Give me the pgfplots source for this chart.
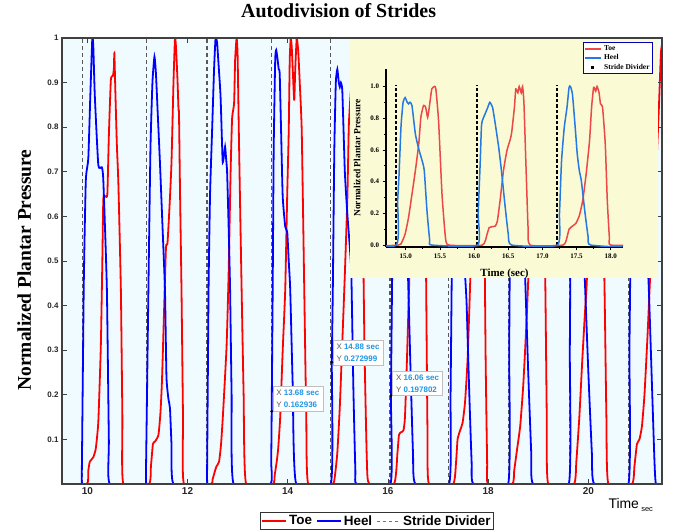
\documentclass[border=0pt]{standalone}
\usepackage{fontspec}
\setmainfont{Liberation Serif}
\newfontfamily\arial{Liberation Sans}
\usepackage{pgfplots}
\usepackage{pgfplotstable}
\pgfplotsset{compat=1.18}

\definecolor{mred}{RGB}{255,0,0}
\definecolor{mblue}{RGB}{0,0,255}
\definecolor{bgcyan}{RGB}{240,251,255}
\definecolor{inyel}{RGB}{250,250,212}
\definecolor{ored}{RGB}{236,72,72}
\definecolor{oblue}{RGB}{38,120,226}
\definecolor{tipblue}{RGB}{30,150,230}

% toe sensor, normalised
\pgfplotstableread{
x y
9.45 0
9.99 0
10.02 0.03
10.05 0.05
10.12 0.06
10.17 0.08
10.22 0.14
10.27 0.31
10.30 0.50
10.32 0.64
10.36 0.645
10.40 0.65
10.43 0.78
10.47 0.906
10.51 0.915
10.53 0.93
10.54 0.966
10.56 0.88
10.59 0.76
10.62 0.674
10.67 0.435
10.70 0.15
10.72 0
11.23 0
11.27 0.04
11.31 0.09
11.35 0.095
11.42 0.11
11.46 0.16
11.49 0.23
11.53 0.38
11.57 0.53
11.60 0.54
11.64 0.62
11.68 0.72
11.72 0.90
11.75 1.0
11.77 0.98
11.80 0.906
11.82 0.84
11.83 0.83
11.85 0.66
11.88 0.435
11.91 0.15
11.93 0
12.47 0
12.50 0.01
12.55 0.03
12.58 0.04
12.63 0.05
12.67 0.09
12.71 0.16
12.78 0.31
12.82 0.47
12.86 0.70
12.89 0.82
12.93 0.854
12.95 0.95
12.98 1.0
13.00 0.96
13.03 0.75
13.08 0.435
13.12 0.2
13.17 0
13.70 0
13.74 0.02
13.78 0.05
13.81 0.08
13.85 0.15
13.90 0.30
13.95 0.435
13.99 0.65
14.02 0.79
14.04 0.95
14.06 1.0
14.08 0.98
14.10 0.93
14.13 0.86
14.15 0.93
14.18 1.0
14.21 0.97
14.24 0.90
14.28 0.79
14.33 0.435
14.37 0.15
14.41 0
14.89 0
14.94 0.017
14.99 0.07
15.04 0.174
15.09 0.32
15.14 0.47
15.19 0.64
15.22 0.805
15.26 0.88
15.29 0.87
15.32 0.805
15.35 0.89
15.38 0.984
15.42 1.0
15.44 0.984
15.48 0.78
15.53 0.32
15.58 0.05
15.63 0
16.12 0
16.19 0.07
16.22 0.11
16.26 0.116
16.31 0.12
16.34 0.15
16.38 0.28
16.43 0.47
16.48 0.595
16.53 0.668
16.55 0.71
16.59 0.868
16.61 0.984
16.64 0.96
16.66 1.0
16.69 0.96
16.71 1.0
16.73 0.89
16.76 0.49
16.79 0.11
16.82 0
17.30 0
17.36 0.05
17.39 0.10
17.44 0.12
17.49 0.137
17.54 0.185
17.59 0.28
17.64 0.447
17.69 0.658
17.72 0.868
17.75 0.994
17.78 0.97
17.80 1.0
17.83 0.96
17.85 0.89
17.88 0.87
17.92 0.64
17.95 0.28
17.98 0.05
18.00 0
18.48 0
18.52 0.03
18.58 0.08
18.64 0.13
18.70 0.22
18.76 0.35
18.80 0.457
18.86 0.65
18.92 0.85
18.96 0.97
19.00 1.0
19.04 0.96
19.08 0.85
19.14 0.457
19.17 0.15
19.20 0
19.71 0
19.76 0.05
19.82 0.15
19.88 0.28
19.93 0.38
19.97 0.457
20.03 0.7
20.09 0.9
20.14 1.0
20.18 0.98
20.24 0.85
20.32 0.457
20.36 0.15
20.40 0
20.87 0
20.92 0.04
20.97 0.09
21.02 0.10
21.07 0.13
21.12 0.2
21.18 0.33
21.23 0.457
21.30 0.62
21.36 0.72
21.41 0.85
21.45 0.97
21.50 1.0
}\toe

% heel sensor, normalised
\pgfplotstableread{
x y
9.45 0
9.88 0
9.89 0.02
9.93 0.45
9.97 0.68
10.02 0.73
10.06 0.87
10.10 1.0
10.12 0.98
10.15 0.87
10.22 0.715
10.29 0.71
10.32 0.68
10.39 0.44
10.43 0.1
10.45 0
11.16 0
11.17 0.02
11.22 0.44
11.26 0.75
11.30 0.90
11.34 0.958
11.37 0.92
11.41 0.82
11.45 0.72
11.50 0.58
11.55 0.435
11.58 0.24
11.62 0.19
11.65 0.17
11.68 0.09
11.72 0
12.38 0
12.39 0.02
12.42 0.435
12.45 0.65
12.49 0.79
12.53 0.93
12.56 1.0
12.59 0.99
12.62 0.94
12.66 0.868
12.70 0.726
12.72 0.73
12.75 0.756
12.77 0.73
12.79 0.70
12.82 0.58
12.85 0.435
12.88 0.2
12.92 0
13.65 0
13.67 0.05
13.68 0.163
13.70 0.435
13.72 0.75
13.75 0.95
13.77 0.973
13.80 0.95
13.82 0.93
13.84 0.92
13.87 0.78
13.90 0.644
13.95 0.577
13.99 0.565
14.02 0.50
14.05 0.435
14.10 0.22
14.17 0
14.86 0
14.88 0.273
14.90 0.435
14.93 0.75
14.96 0.90
14.99 0.93
15.02 0.90
15.04 0.89
15.06 0.90
15.09 0.88
15.14 0.70
15.19 0.605
15.24 0.53
15.27 0.47
15.31 0.216
15.35 0.03
15.38 0
16.05 0
16.06 0.198
16.09 0.53
16.11 0.763
16.16 0.826
16.20 0.868
16.23 0.90
16.27 0.868
16.31 0.763
16.36 0.616
16.40 0.47
16.45 0.26
16.50 0.07
16.55 0
17.22 0
17.25 0.2
17.28 0.53
17.32 0.742
17.36 0.868
17.39 0.994
17.41 1.0
17.44 0.95
17.48 0.742
17.51 0.574
17.54 0.47
17.57 0.405
17.62 0.216
17.67 0.05
17.71 0
18.40 0
18.42 0.3
18.44 0.6
18.48 0.85
18.53 0.95
18.57 0.9
18.62 0.78
18.68 0.6
18.74 0.457
18.80 0.25
18.86 0.07
18.90 0
19.61 0
19.63 0.3
19.65 0.6
19.69 0.85
19.74 0.95
19.78 0.92
19.83 0.78
19.88 0.6
19.93 0.457
20.00 0.25
20.07 0.07
20.12 0
20.80 0
20.82 0.3
20.85 0.6
20.89 0.85
20.94 0.95
20.99 0.92
21.05 0.78
21.12 0.6
21.20 0.457
21.27 0.22
21.32 0.05
21.35 0
21.50 0
}\heel

\begin{document}
\begin{tikzpicture}
% ---- main figure ----
\begin{axis}[
    at={(0,0)}, anchor=south west,
    scale only axis, width=600bp, height=446bp,
    xmin=9.495, xmax=21.47, ymin=0, ymax=1,
    axis background/.style={fill=bgcyan},
    axis on top,
    axis line style={draw=black!75, line width=1.2bp},
    tick style={draw=black!75, line width=0.8bp},
    major tick length=5bp,
    tick align=inside,
    xtick={10,12,14,16,18,20},
    ytick={0.1,0.2,0.3,0.4,0.5,0.6,0.7,0.8,0.9,1},
    /pgf/number format/assume math mode=true,
    xticklabel style={font=\arial\bfseries\fontsize{10}{12}\selectfont, text=black!85},
    yticklabel style={font=\arial\bfseries\fontsize{8}{10}\selectfont, text=black!85},
    title={Autodivision of Strides},
    title style={at={(axis description cs:0.461,1.047)}, anchor=center,
        font=\bfseries\fontsize{20}{22}\selectfont},
    ylabel={Normalized Plantar Pressure},
    ylabel style={at={(axis description cs:-0.063,0.48)}, anchor=center,
        font=\bfseries\fontsize{19.5}{22}\selectfont},
    xlabel={Time\,\raisebox{-3bp}{\fontsize{7.5}{8}\selectfont sec}},
    xlabel style={at={(axis description cs:0.905,-0.047)}, anchor=west,
        font=\arial\fontsize{14}{16}\selectfont},
    legend style={at={(axis description cs:0.525,-0.083)}, anchor=center,
        legend columns=3, draw=black!80, line width=0.8bp, inner sep=1bp,
        font=\arial\bfseries\fontsize{13.5}{15}\selectfont,
        /tikz/every even column/.append style={column sep=2bp}},
    legend image code/.code={\draw[#1] (0bp,0bp) -- (24bp,0bp);},
]
\addplot[ycomb, draw=black!65, line width=1.3bp, dash pattern=on 4bp off 3bp, forget plot]
    coordinates {(9.90,1) (11.18,1) (12.39,1) (13.67,1) (14.86,1)
                 (16.04,1) (17.21,1) (18.41,1) (19.62,1) (20.80,1)};
\addplot[mred, line width=1.8bp, smooth, tension=0.3] table {\toe};
\addlegendentry{Toe}
\addplot[mblue, line width=1.8bp, smooth, tension=0.3] table {\heel};
\addlegendentry{Heel}
\addlegendimage{black!55, line width=1bp, dash pattern=on 3bp off 3bp}
\addlegendentry{Stride Divider}
\addplot[only marks, mark=*, mark size=1.2bp, black, forget plot]
    coordinates {(13.68,0.162936) (14.88,0.272999) (16.06,0.197802)};
\node[draw=black!25, fill=white, anchor=south west, inner sep=3.5bp, xshift=1bp,
      font=\arial\fontsize{8}{12}\selectfont, align=left]
    at (axis cs:13.68,0.162936)
    {{\color{black!65}X} {\color{tipblue}\bfseries 13.68 sec}\\{\color{black!65}Y} {\color{tipblue}\bfseries 0.162936}};
\node[draw=black!25, fill=white, anchor=south west, inner sep=3.5bp, xshift=1bp, yshift=-3bp,
      font=\arial\fontsize{8}{12}\selectfont, align=left]
    at (axis cs:14.88,0.272999)
    {{\color{black!65}X} {\color{tipblue}\bfseries 14.88 sec}\\{\color{black!65}Y} {\color{tipblue}\bfseries 0.272999}};
\node[draw=black!25, fill=white, anchor=south west, inner sep=3.5bp, xshift=1.5bp,
      font=\arial\fontsize{8}{12}\selectfont, align=left]
    at (axis cs:16.06,0.197802)
    {{\color{black!65}X} {\color{tipblue}\bfseries 16.06 sec}\\{\color{black!65}Y} {\color{tipblue}\bfseries 0.197802}};
\end{axis}

% ---- inset panel ----
\fill[inyel] (288bp,206bp) rectangle (596bp,445.3bp);

\begin{axis}[
    at={(324bp,237bp)}, anchor=south west,
    scale only axis, width=237bp, height=178bp,
    xmin=14.71, xmax=18.18, ymin=-0.012, ymax=1.11,
    axis x line*=bottom, axis y line*=left,
    axis line style={line width=1.2bp, black, -},
    tick style={black, line width=0.8bp},
    tick align=outside, major tick length=3.5bp, minor tick length=2bp,
    xtick={15,15.5,16,16.5,17,17.5,18},
    ytick={0,0.2,0.4,0.6,0.8,1},
    minor x tick num=1, minor y tick num=1,
    /pgf/number format/.cd, fixed, fixed zerofill, precision=1, assume math mode=true,
    /pgfplots/.cd,
    ticklabel style={font=\bfseries\fontsize{7}{8}\selectfont},
    xlabel={Time (sec)},
    xlabel style={at={(axis description cs:0.5,-0.153)}, anchor=center,
        font=\bfseries\fontsize{11}{12}\selectfont},
    ylabel={Normalized Plantar Pressure},
    ylabel style={at={(axis description cs:-0.122,0.5)}, anchor=center,
        font=\bfseries\fontsize{9.5}{11}\selectfont},
    legend style={at={(axis description cs:1.127,1.15)}, anchor=north east,
        draw=blue!70!black, line width=1bp, fill=white, inner sep=1bp,
        row sep=-1.5bp, font=\bfseries\fontsize{7.5}{8}\selectfont,
        cells={anchor=west}},
    legend image code/.code={\draw[#1] (0bp,0bp) -- (16bp,0bp);},
]
\addplot[ycomb, black, line width=1.8bp, dash pattern=on 3.5bp off 2bp, forget plot]
    coordinates {(14.86,1.01) (16.04,1.01) (17.21,1.01)};
\addplot[ored, line width=1.5bp, smooth, tension=0.3] table {\toe};
\addlegendentry{Toe}
\addplot[oblue, line width=1.5bp, smooth, tension=0.3] table {\heel};
\addlegendentry{Heel}
\addlegendimage{legend image code/.code={\fill[black] (6.5bp,-1bp) rectangle (8.5bp,1bp);}}
\addlegendentry{Stride Divider}
\end{axis}

\pgfresetboundingbox
\useasboundingbox (-62bp,-47bp) rectangle (616bp,484bp);
\end{tikzpicture}
\end{document}
